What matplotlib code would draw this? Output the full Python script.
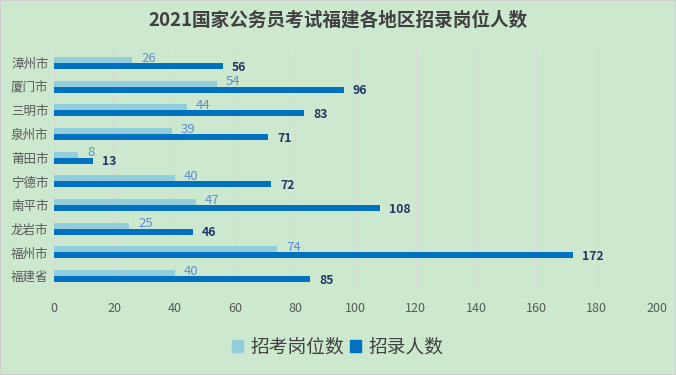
import matplotlib
matplotlib.use("Agg")
import matplotlib.pyplot as plt
import numpy as np
from matplotlib.patches import Rectangle, Patch

plt.rcParams['font.family'] = ['Noto Sans CJK SC', 'DejaVu Sans']

categories = ["福建省", "福州市", "龙岩市", "南平市", "宁德市", "莆田市", "泉州市", "三明市", "厦门市", "漳州市"]
positions = [40, 74, 25, 47, 40, 8, 39, 44, 54, 26]
recruits = [85, 172, 46, 108, 72, 13, 71, 83, 96, 56]
series_names = ["招考岗位数", "招录人数"]
xticks = [0, 20, 40, 60, 80, 100, 120, 140, 160, 180, 200]
title = "2021国家公务员考试福建各地区招录岗位人数"

bg = '#CCE8CF'
c_light = '#92CDDC'
c_dark = '#0070C0'

fig = plt.figure(figsize=(6.76, 3.75), dpi=100)
fig.patch.set_facecolor(bg)
fig.patches.append(Rectangle((0, 0), 1, 1, transform=fig.transFigure, fill=False,
                             edgecolor='#D0D0D0', linewidth=1.5))
ax = fig.add_axes([0.08, 0.229, 0.892, 0.638])
ax.set_facecolor(bg)

y = np.arange(len(categories))
h = 0.25
ax.barh(y + h / 2, positions, height=h, color=c_light, label=series_names[0])
ax.barh(y - h / 2, recruits, height=h, color=c_dark, label=series_names[1])

for yi, v in zip(y, positions):
    ax.text(v + 3.0, yi + h / 2 + 0.08, str(v), color='#5B8FD5', fontsize=9.5,
            va='center', ha='left')
for yi, v in zip(y, recruits):
    ax.text(v + 3.0, yi - h / 2 - 0.05, str(v), color='#1F3864', fontsize=8.8,
            va='center', ha='left', fontweight='bold')

ax.set_xlim(0, 200)
ax.set_ylim(-0.55, len(categories) - 0.45)
ax.set_xticks(xticks)
ax.set_xticklabels([str(t) for t in xticks])
ax.set_yticks(y)
ax.set_yticklabels(categories)
ax.tick_params(axis='both', length=0, colors='#595959', labelsize=9)
ax.tick_params(axis='x', pad=9)
ax.tick_params(axis='y', pad=4)
ax.grid(axis='x', color='#D9D9D9', linewidth=1)
ax.set_axisbelow(True)
for s in ax.spines.values():
    s.set_visible(False)

fig.text(0.5, 0.945, title, ha='center', va='center', fontsize=13.4,
         fontweight='bold', color='#404040')

handles = [Patch(color=c_light), Patch(color=c_dark)]
fig.legend(handles, series_names, loc='center', bbox_to_anchor=(0.5, 0.075), ncol=2,
           frameon=False, fontsize=13.5, labelcolor='#404040', handlelength=0.6,
           handleheight=0.6, handletextpad=0.4, columnspacing=0.3)

fig.savefig('out.png', dpi=100, facecolor=bg)
